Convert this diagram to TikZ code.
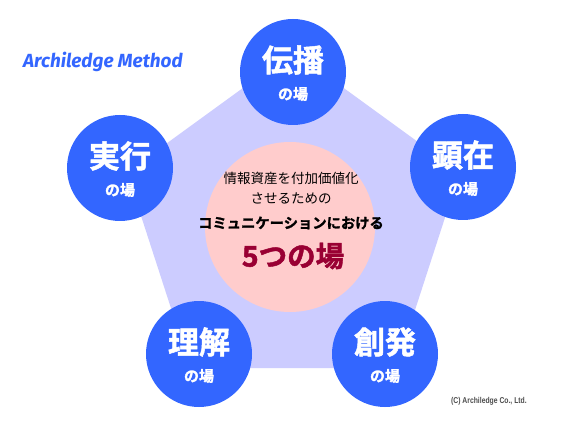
\documentclass[tikz,border=0pt]{standalone}
\usepackage{fontspec}
\newfontfamily\jpb{Noto Sans CJK JP Bold}[FakeBold=1.6]
\newfontfamily\jpr{Noto Sans CJK JP}
\newfontfamily\firas{Fira Sans}
\setmainfont{Liberation Sans}
\definecolor{blueC}{HTML}{3366FF}
\definecolor{penta}{HTML}{CCCCFF}
\definecolor{pinkC}{HTML}{FFCCCC}
\definecolor{darkred}{HTML}{990033}
\begin{document}
\begin{tikzpicture}[x=1pt,y=-1pt,
  bluecircle/.style={circle,fill=blueC,minimum size=106pt,inner sep=0pt},
  bigtitle/.style={text=white,font=\jpb\fontsize{31}{31}\selectfont,inner sep=0pt},
  smalltitle/.style={text=white,font=\jpb\fontsize{15}{15}\selectfont,inner sep=0pt}]
\useasboundingbox (0,0) rectangle (586,430);
\fill[white] (0,0) rectangle (586,430);
% pentagon
\fill[penta] (293.3,51.4) -- (459.7,172.3) -- (396.2,368) -- (190.4,368) -- (126.9,172.3) -- cycle;
% center circle
\node[circle,fill=pinkC,minimum size=170pt,inner sep=0pt] (center) at (290,227) {};
\node[font=\jpr\fontsize{13.5}{13.5}\selectfont,inner sep=0pt] (l1) at (291,178) {情報資産を付加価値化};
\node[font=\jpr\fontsize{13.5}{13.5}\selectfont,inner sep=0pt] (l2) at (291,198) {させるための};
\node[font=\jpb\fontsize{14.3}{14.3}\selectfont,inner sep=0pt] (l3) at (291,223) {コミュニケーションにおける};
\node[font=\jpb\fontsize{28.5}{28.5}\selectfont,text=darkred,inner sep=0pt] (l4) at (293,256) {5つの場};
% blue circles
\node[bluecircle] (top) at (293,72) {};
\node[bigtitle] (topt) at (293,60) {伝播};
\node[smalltitle] (tops) at (293,94) {の場};
\node[bluecircle] (left) at (120,168) {};
\node[bigtitle] (leftt) at (120,156) {実行};
\node[smalltitle] (lefts) at (120,190) {の場};
\node[bluecircle] (right) at (463,167) {};
\node[bigtitle] (rightt) at (463,155) {顕在};
\node[smalltitle] (rights) at (463,189) {の場};
\node[bluecircle] (bl) at (199,354) {};
\node[bigtitle] (blt) at (199,342) {理解};
\node[smalltitle] (bls) at (199,376) {の場};
\node[bluecircle] (br) at (385,354) {};
\node[bigtitle] (brt) at (385,342) {創発};
\node[smalltitle] (brs) at (385,376) {の場};
% labels
\node[anchor=west,text=blueC,font=\firas\bfseries\itshape\fontsize{19}{19}\selectfont,inner sep=0pt] (title) at (23,62) {Archiledge Method};
\node[anchor=west,text=black!70,font=\bfseries\fontsize{8.5}{8.5}\selectfont,inner sep=0pt,xscale=0.8] (copy) at (451,401) {(C) Archiledge Co., Ltd.};
\end{tikzpicture}
\end{document}
